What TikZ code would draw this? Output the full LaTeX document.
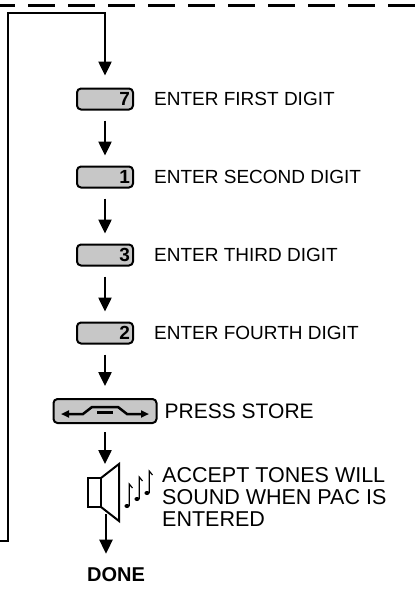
\documentclass[tikz,border=0pt]{standalone}
\usepackage{fontspec}
\setmainfont{Liberation Sans}
\usetikzlibrary{arrows.meta,positioning}

\begin{document}
\begin{tikzpicture}[x=1pt,y=-1pt,line join=miter,font=\fontsize{19}{21.5}\selectfont,
  keybox/.style={draw,line width=2pt,rounded corners=4pt,fill=black!22,
    minimum height=21pt,text width=50pt,inner sep=3pt,align=right,
    font=\fontsize{19}{21.5}\selectfont\bfseries},
  flow/.style={line width=2.5pt,-{Triangle[length=14pt,width=13pt]}},
  lbl/.style={anchor=west,inner sep=0pt,align=left}]
\useasboundingbox (0,0) rectangle (416,595);
\coordinate (dl) at (0,5);
\coordinate (dr) at (416,5);
\coordinate (le) at (0,541);
\coordinate (lb) at (8,541);
\coordinate (lt) at (8,13);
\coordinate (rt) at (105,13);
\coordinate (spkin) at (105,464);
\coordinate (spkout) at (106,514);

\node[keybox] (k7) at (105,99) {7};
\node[keybox] (k1) at (105,177) {1};
\node[keybox] (k3) at (105,255) {3};
\node[keybox] (k2) at (105,333) {2};
\node[keybox,text width=97pt,minimum height=24pt] (store) at (105,411) {};
\node[inner sep=0pt,font=\fontsize{20}{22}\selectfont\bfseries] (done) at (116,575) {DONE};

\node[lbl,right=20pt of k7] (t7) {ENTER FIRST DIGIT};
\node[lbl,right=20pt of k1] (t1) {ENTER SECOND DIGIT};
\node[lbl,right=20pt of k3] (t3) {ENTER THIRD DIGIT};
\node[lbl,right=20pt of k2] (t2) {ENTER FOURTH DIGIT};
\node[lbl,right=7pt of store,font=\fontsize{21}{22}\selectfont] (tstore) {PRESS STORE};
\node[lbl,font=\fontsize{21.5}{22}\selectfont] (ttones) at (162,497)
  {ACCEPT TONES WILL\\SOUND WHEN PAC IS\\ENTERED};

% dashed cut line and return loop
\draw[line width=3pt,dash pattern=on 27pt off 13pt,dash phase=12pt] (dl) -- (dr);
\draw[flow,shorten >=12pt] (le) -- (lb) -- (lt) -- (rt) -- (k7);
\draw[flow,shorten <=10pt,shorten >=10pt] (k7) -- (k1);
\draw[flow,shorten <=10pt,shorten >=10pt] (k1) -- (k3);
\draw[flow,shorten <=10pt,shorten >=10pt] (k3) -- (k2);
\draw[flow,shorten <=10pt,shorten >=12pt] (k2) -- (store);
\draw[flow,shorten <=8pt] (store) -- (spkin);
\draw[flow,shorten >=14pt] (spkout) -- (spkout |- done.north);

% store key symbol
\begin{scope}[shift={(store.center)},line width=2.5pt]
\draw[{Triangle[length=8pt,width=7pt]}-{Triangle[length=8pt,width=7pt]}]
  (-44,3) -- (-22,3) -- (-13,-4) -- (13,-4) -- (22,3) -- (44,3);
\draw (-8,1.5) -- (8,1.5);
\end{scope}

% speaker and tones
\draw[line width=2pt] (88,478) rectangle (101,507);
\draw[line width=2pt] (101,478) -- (119,464) -- (119,521) -- (101,507);
\foreach \x/\y in {127/506,137/499,147/493}{
  \fill (\x,\y) ellipse (2.6pt and 2pt);
  \draw[line width=1.2pt] (\x+2.2,\y) -- (\x+2.2,\y-22) -- (\x+5.5,\y-18);
}
\end{tikzpicture}
\end{document}
